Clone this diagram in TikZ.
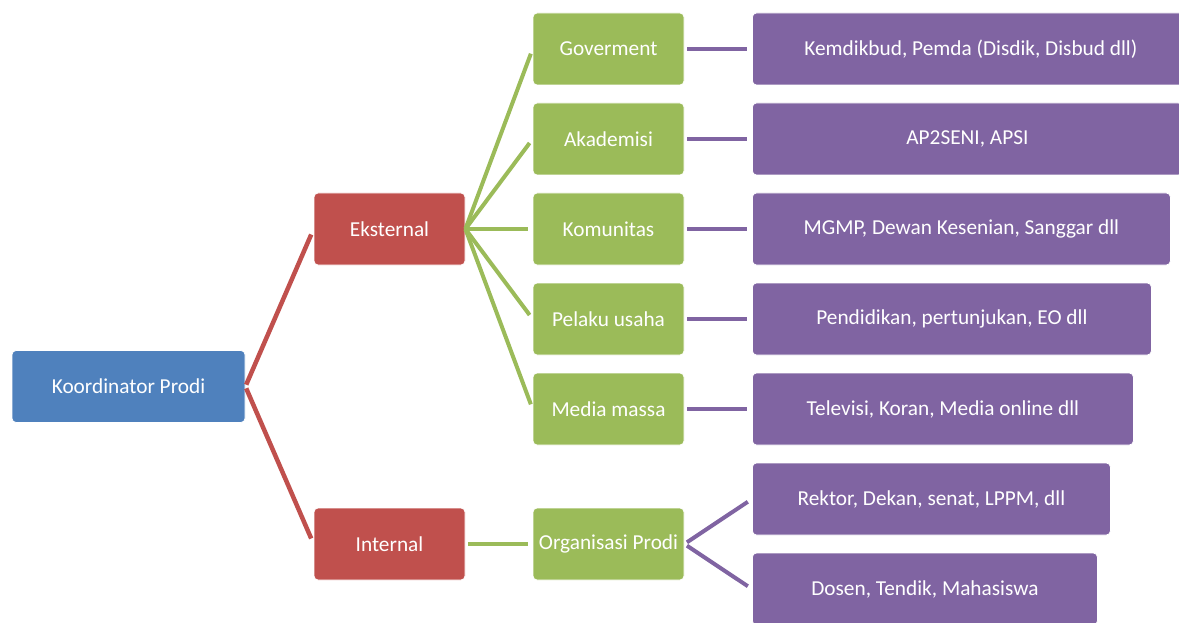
\documentclass[tikz,border=0pt]{standalone}
\usepackage{fontspec}
\setmainfont{Carlito}
\usetikzlibrary{positioning}

\definecolor{koordblue}{HTML}{4F81BD}
\definecolor{unitred}{HTML}{C0504D}
\definecolor{mitragreen}{HTML}{9BBB59}
\definecolor{contohpurple}{HTML}{8064A2}

\begin{document}
\begin{tikzpicture}[x=1pt,y=-1pt,
  box/.style={rounded corners=4pt,draw=white,line width=0.8pt,text=white,
    minimum height=72pt,inner sep=0pt,font=\fontsize{21.3}{25}\selectfont},
  koordbox/.style={box,fill=koordblue,minimum width=233pt},
  unitbox/.style={box,fill=unitred,minimum width=151pt},
  mitrabox/.style={box,fill=mitragreen,minimum width=151pt},
  contohbox/.style={box,fill=contohpurple,anchor=west},
  redlink/.style={draw=unitred,line width=4.5pt,shorten <=2pt,shorten >=6pt},
  greenlink/.style={draw=mitragreen,line width=4pt,shorten >=5pt},
  purplelink/.style={draw=contohpurple,line width=4pt,shorten <=3pt,shorten >=5pt}]
  \useasboundingbox (0,0) rectangle (1179,623);
  \clip (0,0) rectangle (1179,623);

  % level 1 and 2
  \node[koordbox] (koord) at (128.5,386.5) {Koordinator Prodi};
  \node[unitbox] (eks) at (389.5,229) {Eksternal};
  \node[unitbox] (intl) at (389.5,544) {Internal};

  % level 3
  \node[mitrabox] (gov) at (608.5,49) {Goverment};
  \node[mitrabox] (akad) at (608.5,139) {Akademisi};
  \node[mitrabox] (komu) at (608.5,229) {Komunitas};
  \node[mitrabox] (usaha) at (608.5,319) {Pelaku usaha};
  \node[mitrabox] (media) at (608.5,409) {Media massa};
  \node[mitrabox] (org) at (608.5,544) {Organisasi Prodi};

  % level 4
  \node[contohbox,minimum width=437pt] (kemdik) at (752,49) {Kemdikbud, Pemda (Disdik, Disbud dll)};
  \node[contohbox,minimum width=430pt] (ap2seni) at (752,139) {AP2SENI, APSI};
  \node[contohbox,minimum width=418pt] (mgmp) at (752,229) {MGMP, Dewan Kesenian, Sanggar dll};
  \node[contohbox,minimum width=399pt] (didik) at (752,319) {Pendidikan, pertunjukan, EO dll};
  \node[contohbox,minimum width=381pt] (tv) at (752,409) {Televisi, Koran, Media online dll};
  \node[contohbox,minimum width=358pt] (rektor) at (752,499) {Rektor, Dekan, senat, LPPM, dll};
  \node[contohbox,minimum width=345pt] (dosen) at (752,589) {Dosen, Tendik, Mahasiswa};

  % connectors
  \draw[redlink] (koord.east) -- (eks.west);
  \draw[redlink] (koord.east) -- (intl.west);
  \foreach \m in {gov,akad,komu,usaha,media}
    \draw[greenlink] (eks.east) -- (\m.west);
  \draw[greenlink,shorten <=3pt] (intl.east) -- (org.west);
  \draw[purplelink] (gov.east) -- (kemdik.west);
  \draw[purplelink] (akad.east) -- (ap2seni.west);
  \draw[purplelink] (komu.east) -- (mgmp.west);
  \draw[purplelink] (usaha.east) -- (didik.west);
  \draw[purplelink] (media.east) -- (tv.west);
  \draw[purplelink] (org.east) -- (rektor.west);
  \draw[purplelink] (org.east) -- (dosen.west);
\end{tikzpicture}
\end{document}
